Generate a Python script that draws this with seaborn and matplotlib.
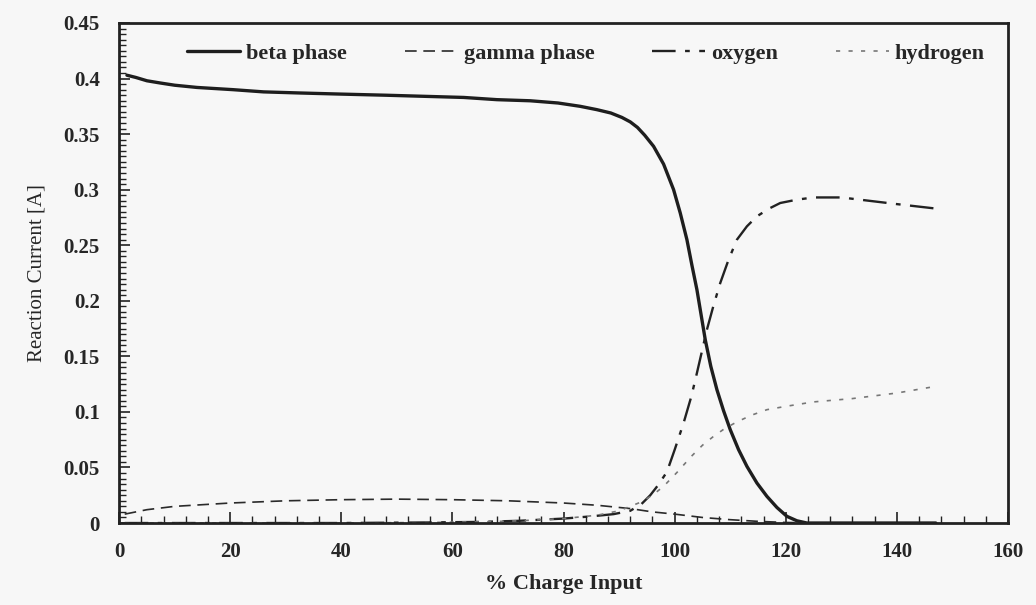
import numpy as np
import pandas as pd
import matplotlib
matplotlib.use("Agg")
import matplotlib.pyplot as plt
import seaborn as sns
from matplotlib.ticker import MultipleLocator

# ---- data ----
beta_x = [1.4, 3, 5, 7.4, 10, 14, 20.5, 26, 32.6, 40, 48, 55, 62, 68, 74, 79, 83, 86, 88.5, 90.5, 92, 93.3, 94.6, 96.2, 98, 99.8, 101, 102.2, 103.1, 104, 105.5, 106.5, 107.6, 108.8, 110, 111.5, 113, 114.8, 116.6, 118.4, 120.2, 122, 123.8, 130, 140, 147]
beta_y = [0.403, 0.401, 0.398, 0.396, 0.394, 0.392, 0.390, 0.388, 0.387, 0.386, 0.385, 0.384, 0.383, 0.381, 0.380, 0.378, 0.375, 0.372, 0.369, 0.365, 0.361, 0.356, 0.349, 0.339, 0.323, 0.300, 0.279, 0.255, 0.232, 0.210, 0.165, 0.141, 0.120, 0.101, 0.084, 0.066, 0.051, 0.036, 0.024, 0.014, 0.006, 0.002, 0.0, 0.0, 0.0, 0.0]

gamma_x = [1, 5, 10, 20, 30, 40, 50, 60, 70, 80, 86, 92, 96, 100, 105, 110, 115, 120, 125, 135, 147]
gamma_y = [0.008, 0.012, 0.015, 0.018, 0.020, 0.021, 0.0215, 0.021, 0.020, 0.018, 0.016, 0.013, 0.010, 0.008, 0.005, 0.003, 0.0015, 0.0005, 0.0, 0.0, 0.0]

oxy_x = [1, 20, 40, 55, 65, 72, 80, 85, 89, 92, 94, 95.6, 97, 98.6, 100, 101.6, 103, 104, 105.8, 107, 108.2, 109.7, 111.2, 113, 114.8, 117, 119, 122, 125, 130, 135, 140, 147]
oxy_y = [0.0, 0.0, 0.0, 0.0005, 0.001, 0.002, 0.004, 0.006, 0.008, 0.011, 0.017, 0.025, 0.034, 0.046, 0.066, 0.090, 0.114, 0.135, 0.174, 0.196, 0.216, 0.237, 0.255, 0.267, 0.276, 0.283, 0.288, 0.291, 0.293, 0.293, 0.290, 0.287, 0.283]

hyd_x = [1, 20, 40, 55, 65, 72, 80, 86, 90, 94, 96, 98, 100.5, 103, 105, 107, 109, 111.2, 113.8, 116.6, 120, 125, 132, 140, 147]
hyd_y = [0.0, 0.0, 0.0, 0.0005, 0.001, 0.002, 0.004, 0.007, 0.011, 0.019, 0.025, 0.033, 0.046, 0.060, 0.070, 0.078, 0.085, 0.091, 0.097, 0.102, 0.105, 0.109, 0.112, 0.117, 0.123]

series_names = ["beta phase", "gamma phase", "oxygen", "hydrogen"]
x_ticks = [0, 20, 40, 60, 80, 100, 120, 140, 160]
y_ticks = [0, 0.05, 0.1, 0.15, 0.2, 0.25, 0.3, 0.35, 0.4, 0.45]
y_tick_labels = ["0", "0.05", "0.1", "0.15", "0.2", "0.25", "0.3", "0.35", "0.4", "0.45"]

sns.set_style("ticks")
plt.rcParams["font.family"] = ["Liberation Serif", "DejaVu Serif"]

fig = plt.figure(figsize=(10.36, 6.05), dpi=100, facecolor="#f7f7f7")
ax = fig.add_axes([0.115, 0.1355, 0.858, 0.8265])
ax.set_facecolor("#f7f7f7")

styles = {
    "beta phase": dict(color="#1e1e1e", lw=2.4, ls="-"),
    "gamma phase": dict(color="#2a2a2a", lw=1.2, ls=(0, (7, 4))),
    "oxygen": dict(color="#222222", lw=1.7, ls=(0, (10, 4, 2, 4))),
    "hydrogen": dict(color="#777777", lw=1.2, ls=(0, (2.5, 5))),
}
data = {
    "beta phase": (beta_x, beta_y),
    "gamma phase": (gamma_x, gamma_y),
    "oxygen": (oxy_x, oxy_y),
    "hydrogen": (hyd_x, hyd_y),
}
for name in series_names:
    xs, ys = data[name]
    df = pd.DataFrame({"x": xs, "y": ys})
    st = styles[name]
    line = sns.lineplot(data=df, x="x", y="y", ax=ax, color=st["color"], linewidth=st["lw"],
                        linestyle=st["ls"], label=name)
for ln in ax.lines:
    ln.set_solid_joinstyle("round")
    ln.set_dash_joinstyle("round")

ax.set_xlim(0, 160)
ax.set_ylim(0, 0.45)
ax.set_xticks(x_ticks)
ax.set_xticklabels([str(t) for t in x_ticks], fontsize=15, fontweight="bold")
ax.set_yticks(y_ticks)
ax.set_yticklabels(y_tick_labels, fontsize=15, fontweight="bold")
ax.xaxis.set_minor_locator(MultipleLocator(4))
ax.yaxis.set_minor_locator(MultipleLocator(0.005))
ax.tick_params(which="both", direction="in", color="#222222")
ax.tick_params(which="major", length=8, width=1.2, pad=14)
ax.tick_params(which="minor", length=5, width=1.0)
for s in ax.spines.values():
    s.set_linewidth(2.0)
    s.set_color("#222222")

ax.set_xlabel("% Charge Input", fontsize=16, fontweight="bold", labelpad=8)
ax.set_ylabel("Reaction Current [A]", fontsize=15, labelpad=12)

leg = ax.legend(loc="upper center", ncol=4, frameon=False,
                handlelength=2.4, handletextpad=0.25, columnspacing=2.6,
                bbox_to_anchor=(0.525, 1.0), prop={"weight": "bold", "size": 16})

fig.savefig("out.png", dpi=100, facecolor=fig.get_facecolor())
